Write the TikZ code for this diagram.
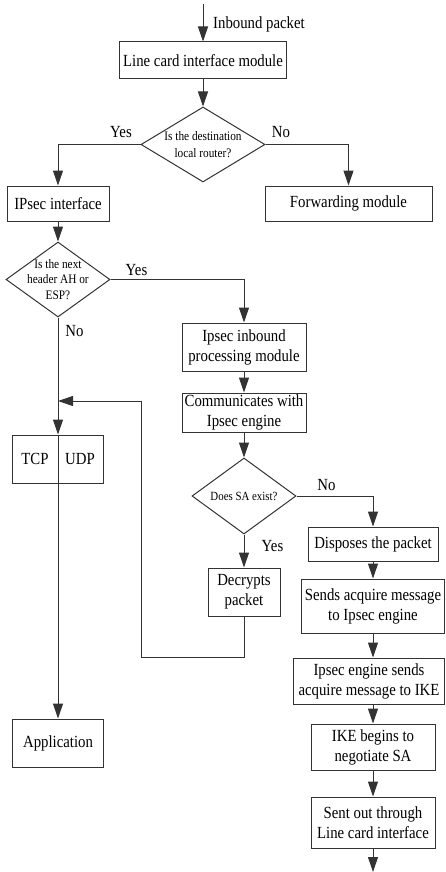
\documentclass[tikz,border=0pt]{standalone}
\usepackage{fontspec}
\setmainfont{Liberation Serif}[FakeStretch=0.87]
\usetikzlibrary{arrows.meta,shapes.geometric}
\begin{document}
\begin{tikzpicture}[x=1pt,y=-1pt,
  line/.style={draw=black!80, line width=1pt},
  arrow/.style={line, -{Triangle[length=15pt,width=10pt]}},
  box/.style={draw=black!80, line width=1pt, rectangle, inner sep=0pt,
    align=center, font=\fontsize{17}{20}\selectfont},
  decision/.style={draw=black!80, line width=1pt, diamond, inner sep=0pt},
  qtext/.style={align=center, inner sep=0pt},
  lbl/.style={inner sep=0pt, anchor=base, font=\fontsize{17}{20}\selectfont}]
\useasboundingbox (0,0) rectangle (446,872);

% ---- boxes and decisions ----
\node[box, minimum width=167pt, minimum height=37pt] (lc) at (203,60.5) {Line card interface module};
\node[decision, minimum width=124pt, minimum height=75pt] (dest) at (203,144.5) {};
\node[qtext, font=\fontsize{13}{17}\selectfont] (desttxt) at (dest.center) {Is the destination\\local router?};
\node[box, minimum width=102pt, minimum height=35pt] (ipsec) at (58,203.5) {IPsec interface};
\node[box, minimum width=167pt, minimum height=35pt] (fwd) at (348.5,203.5) {Forwarding module};

\node[decision, minimum width=104pt, minimum height=75pt] (hdr) at (58,279.5) {};
\node[qtext, font=\fontsize{13}{15.5}\selectfont] (hdrtxt) at (hdr.center) {Is the next\\header AH or\\ESP?};
\node[box, minimum width=124pt, minimum height=48pt] (inb) at (244,347) {Ipsec inbound\\processing module};
\node[box, minimum width=124pt, minimum height=39pt] (comm) at (244,412.5) {Communicates with\\Ipsec engine};

\node[box, minimum width=91pt, minimum height=48pt] (tcp) at (58,459) {};
\node[inner sep=0pt, font=\fontsize{17}{20}\selectfont] (tcptxt) at (35,459) {TCP};
\node[inner sep=0pt, font=\fontsize{17}{20}\selectfont] (udptxt) at (80,459) {UDP};

\node[decision, minimum width=104pt, minimum height=76pt] (sa) at (244,496) {};
\node[qtext, font=\fontsize{12.5}{15}\selectfont] (satxt) at (sa.center) {Does SA exist?};
\node[box, minimum width=72pt, minimum height=48pt] (dec) at (244,592) {Decrypts\\packet};

\node[box, minimum width=130pt, minimum height=34pt] (disp) at (373,544) {Disposes the packet};
\node[box, minimum width=143pt, minimum height=54pt] (send) at (373,606) {Sends acquire message\\to Ipsec engine};
\node[box, minimum width=151pt, minimum height=46pt] (eng) at (369,681) {Ipsec engine sends\\acquire message to IKE};
\node[box, minimum width=124pt, minimum height=46pt] (ike) at (373,747) {IKE begins to\\negotiate SA};
\node[box, minimum width=124pt, minimum height=51pt] (sent) at (373,822.5) {Sent out through\\Line card interface};

\node[box, minimum width=91pt, minimum height=48pt] (app) at (58,743) {Application};

% ---- free ends and bends ----
\coordinate (in) at (203,4);
\coordinate (out) at (373,872);
\coordinate (merge) at (58,401);
\coordinate (loopcorner) at (141,657);

% ---- connectors ----
\draw[arrow] (in) -- (lc.north);
\node[lbl, anchor=base west] (inlbl) at (213,29) {Inbound packet};
\draw[arrow] (lc.south) -- (dest.north);
\draw[arrow] (dest.west) -| (ipsec.north);
\draw[arrow] (dest.east) -| (fwd.north);
\node[lbl] (yes1) at (121,137) {Yes};
\node[lbl] (no1) at (281,137) {No};

\draw[arrow] (ipsec.south) -- (hdr.north);
\draw[arrow] (hdr.east) -| (inb.north);
\node[lbl] (yes2) at (136.5,275) {Yes};
\draw[arrow] (hdr.south) -- (tcp.north);
\node[lbl] (no2) at (74.5,336) {No};
\draw[line] (tcp.north) -- (tcp.south);
\draw[arrow] (tcp.south) -- (app.north);

\draw[arrow] (inb.south) -- (comm.north);
\draw[arrow] (comm.south) -- (sa.north);
\draw[arrow] (sa.east) -| (disp.north);
\node[lbl] (no3) at (326.5,490) {No};
\draw[arrow] (sa.south) -- (dec.north);
\node[lbl] (yes3) at (272.5,551.5) {Yes};
\draw[arrow] (dec.south) |- (loopcorner) |- (merge);

\draw[arrow] (disp.south) -- (send.north);
\draw[arrow] (send.south) -- (send.south |- eng.north);
\draw[arrow] (ike.north |- eng.south) -- (ike.north);
\draw[arrow] (ike.south) -- (sent.north);
\draw[arrow] (sent.south) -- (out);
\end{tikzpicture}
\end{document}
